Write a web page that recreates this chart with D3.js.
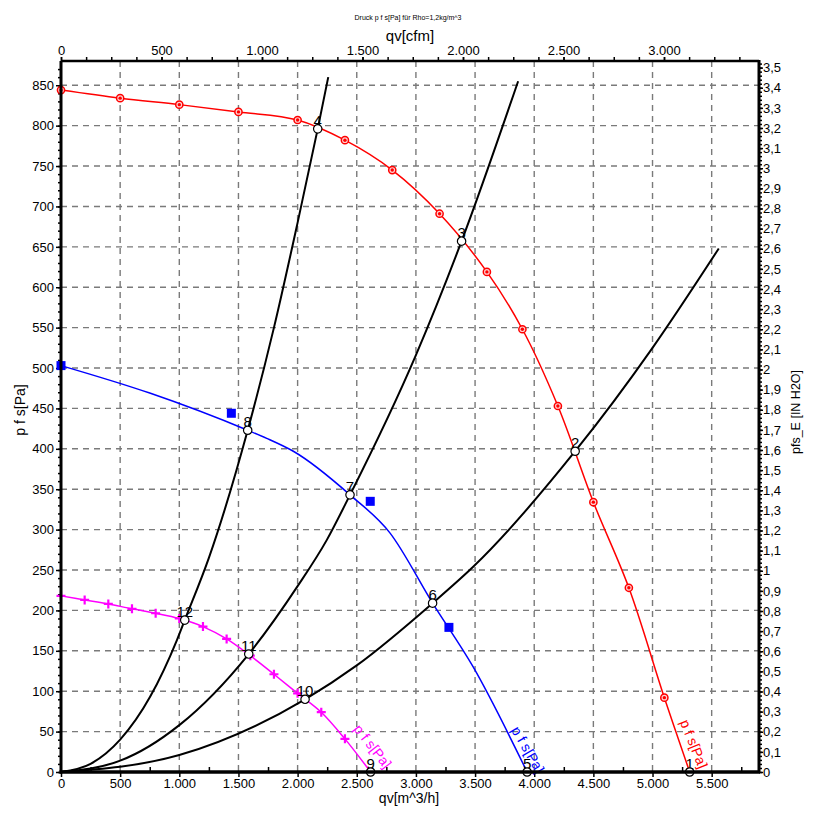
<!DOCTYPE html>
<html><head><meta charset="utf-8">
<script src="https://cdn.jsdelivr.net/npm/d3@7"></script>
<style>
body{margin:0;background:#fff;}
svg{display:block;font-family:"Liberation Sans",Arial,Helvetica,sans-serif;}
</style>
</head><body>
<svg id="c" width="817" height="831"></svg>
<script>
// ---------- data ----------
const xMaxQv = 5900;          // m^3/h
const yMaxPa = 880;           // Pa
const cfmFactor = 1.699;      // m^3/h per cfm
const inH2OFactor = 249.089;  // Pa per inH2O

const bottomTicks = [0,500,1000,1500,2000,2500,3000,3500,4000,4500,5000,5500];
const topTicks = [0,500,1000,1500,2000,2500,3000];
const leftTicks = [0,50,100,150,200,250,300,350,400,450,500,550,600,650,700,750,800,850];
const rightTicks = [0,0.1,0.2,0.3,0.4,0.5,0.6,0.7,0.8,0.9,1,1.1,1.2,1.3,1.4,1.5,1.6,1.7,1.8,1.9,2,2.1,2.2,2.3,2.4,2.5,2.6,2.7,2.8,2.9,3,3.1,3.2,3.3,3.4,3.5];

// red fan curve (measured markers) and its end on the axis
const redQv = [0,500,1000,1500,2000,2400,2800,3200,3600,3900,4200,4500,4800,5100];
const redP  = [844,834,826,817,807,782,745,691,619,548,453,334,228,92];
const redEndQv = 5314, redEndP = 0;

// blue fan curve (line) and its measured square markers
const blueLineQv = [0,750,1578,1739,1964,2443,2780,3141,3484,3940];
const blueLineP  = [503,469,423,413,397,343,296,209,130,0];
const blueSqQv = [0,1440,2614,3279];
const blueSqP  = [503,444,335,179];

// magenta fan curve (measured "+" markers) and its end on the axis
const magQv = [0,200,400,600,800,1000,1200,1400,1600,1800,2000,2200,2400];
const magP  = [218,213,208,202,196.5,190,180,164.7,144,121,97.4,74,41];
const magEndQv = 2617, magEndP = 0;

// system (resistance) curves
const sysAQv = [0,250,500,753,979,1046,1250,1578,1800,2000,2170,2259];
const sysAP  = [0,10,40,93,163,188,265,423,550,680,796,860];
const sysBQv = [0,500,1000,1587,2000,2246,2443,3000,3386,3864];
const sysBP  = [0,14,58,146,230,287,343,516,657,855];
const sysCQv = [0,1000,2063,2500,3141,3484,4346,5000,5560];
const sysCP  = [0,21,90,132,209,254,397,525,648];

// operating points
const opIds = ["1","2","3","4","5","6","7","8","9","10","11","12"];
const opQv  = [5314,4346,3386,2170,3940,3141,2443,1578,2617,2063,1587,1046];
const opP   = [0,397,657,796,0,209,343,423,0,90,146,188];

const curveLabel = "p f s[Pa]";

// ---------- chart ----------
const L = 61, R = 759, T = 61, B = 772;
const svg = d3.select("#c");
const x = d3.scaleLinear().domain([0, xMaxQv]).range([L, R]);
const y = d3.scaleLinear().domain([0, yMaxPa]).range([B, T]);
const xTop = d3.scaleLinear().domain([0, xMaxQv / cfmFactor]).range([L, R]);
const yR = d3.scaleLinear().domain([0, yMaxPa / inH2OFactor]).range([B, T]);

const de = d3.formatLocale({decimal: ",", thousands: ".", grouping: [3], currency: ["", ""]});
const fmtThousands = de.format(",");
const fmtComma = de.format(".1~f");

// grid
const grid = svg.append("g").attr("stroke", "#7a7a7a").attr("stroke-width", 1.4).attr("stroke-dasharray", "6,5");
grid.selectAll("line.v").data(bottomTicks.filter(d => d > 0)).join("line")
  .attr("x1", d => x(d)).attr("x2", d => x(d)).attr("y1", T).attr("y2", B);
grid.selectAll("line.h").data(leftTicks.filter(d => d > 0)).join("line")
  .attr("x1", L).attr("x2", R).attr("y1", d => y(d)).attr("y2", d => y(d));

function styleAxis(g) {
  g.select(".domain").remove();
  g.selectAll(".tick line").attr("stroke", "#000").attr("stroke-width", 1.5);
  g.selectAll(".tick text").attr("font-size", 13).attr("fill", "#000")
    .attr("font-family", "Liberation Sans, Arial, sans-serif");
}

// left axis
svg.append("g").attr("transform", `translate(${L},0)`)
  .call(d3.axisLeft(y).tickValues(d3.range(0, 871, 10)).tickSize(3).tickFormat(""))
  .call(styleAxis);
svg.append("g").attr("transform", `translate(${L},0)`)
  .call(d3.axisLeft(y).tickValues(leftTicks).tickSize(5).tickPadding(2).tickFormat(d => d))
  .call(styleAxis);

// right axis
svg.append("g").attr("transform", `translate(${R},0)`)
  .call(d3.axisRight(yR).tickValues(d3.range(0, 177).map(i => i / 50)).tickSize(3).tickFormat(""))
  .call(styleAxis);
svg.append("g").attr("transform", `translate(${R},0)`)
  .call(d3.axisRight(yR).tickValues(rightTicks).tickSize(4).tickPadding(0).tickFormat(fmtComma))
  .call(styleAxis);

// bottom axis
svg.append("g").attr("transform", `translate(0,${B})`)
  .call(d3.axisBottom(x).tickValues(d3.range(250, 5900, 500)).tickSize(-5).tickFormat(""))
  .call(styleAxis);
svg.append("g").attr("transform", `translate(0,${B})`)
  .call(d3.axisBottom(x).tickValues(bottomTicks).tickSize(5).tickPadding(2).tickFormat(fmtThousands))
  .call(styleAxis);

// top axis
svg.append("g").attr("transform", `translate(0,${T})`)
  .call(d3.axisTop(xTop).tickValues(d3.range(0, 3470, 125)).tickSize(4).tickFormat(""))
  .call(styleAxis);
svg.append("g").attr("transform", `translate(0,${T})`)
  .call(d3.axisTop(xTop).tickValues(topTicks).tickSize(4).tickPadding(2).tickFormat(fmtThousands))
  .call(styleAxis);

// titles
svg.append("text").attr("x", 408).attr("y", 20).attr("text-anchor", "middle")
  .attr("font-size", 7).text("Druck p f s[Pa] für Rho=1,2kg/m^3");
svg.append("text").attr("x", (L + R) / 2).attr("y", 41).attr("text-anchor", "middle")
  .attr("font-size", 15).text("qv[cfm]");
svg.append("text").attr("x", (L + R) / 2 - 1).attr("y", 803).attr("text-anchor", "middle")
  .attr("font-size", 14).text("qv[m^3/h]");
svg.append("text").attr("transform", "translate(25,410) rotate(-90)").attr("text-anchor", "middle")
  .attr("font-size", 14).text("p f s[Pa]");
svg.append("text").attr("transform", "translate(800,412) rotate(-90)").attr("text-anchor", "middle")
  .attr("font-size", 12.5).text("pfs_E [IN H2O]");

// curves
const line = d3.line().x(d => x(d[0])).y(d => y(d[1]));
const zip = (a, b) => a.map((v, i) => [v, b[i]]);

const sysG = svg.append("g").attr("fill", "none").attr("stroke", "#000").attr("stroke-width", 2);
[[sysAQv, sysAP], [sysBQv, sysBP], [sysCQv, sysCP]].forEach(([q, p]) => {
  sysG.append("path").attr("d", line.curve(d3.curveMonotoneX)(zip(q, p)));
});

const redPts = zip(redQv, redP).concat([[redEndQv, redEndP]]);
svg.append("path").attr("fill", "none").attr("stroke", "#ff0000").attr("stroke-width", 1.5)
  .attr("d", line.curve(d3.curveCatmullRom)(redPts));
svg.append("path").attr("fill", "none").attr("stroke", "#0000ff").attr("stroke-width", 1.5)
  .attr("d", line.curve(d3.curveMonotoneX)(zip(blueLineQv, blueLineP)));
const magPts = zip(magQv, magP).concat([[magEndQv, magEndP]]);
svg.append("path").attr("fill", "none").attr("stroke", "#ff00ff").attr("stroke-width", 1.5)
  .attr("d", line.curve(d3.curveCatmullRom)(magPts));

// markers
const redM = svg.append("g").selectAll("g").data(zip(redQv, redP)).join("g")
  .attr("transform", d => `translate(${x(d[0])},${y(d[1])})`);
redM.append("circle").attr("r", 3.6).attr("fill", "#ffd0d0").attr("stroke", "#ff0000").attr("stroke-width", 1.5);
redM.append("circle").attr("r", 1.7).attr("fill", "#ff0000");

svg.append("g").selectAll("rect").data(zip(blueSqQv, blueSqP)).join("rect")
  .attr("x", d => x(d[0]) - 4.5).attr("y", d => y(d[1]) - 4.5)
  .attr("width", 9).attr("height", 9).attr("fill", "#0000ff");

svg.append("g").attr("stroke", "#ff00ff").attr("stroke-width", 2.2)
  .selectAll("path").data(zip(magQv, magP)).join("path")
  .attr("d", d => `M${x(d[0]) - 4.5},${y(d[1])}H${x(d[0]) + 4.5}M${x(d[0])},${y(d[1]) - 4.5}V${y(d[1]) + 4.5}`);

// curve labels
[[5230, 62, 68, "#ff0000"], [3802, 52, 60, "#0000ff"], [2469, 53, 52, "#ff00ff"]].forEach(([q, p, a, c]) => {
  svg.append("text").attr("transform", `translate(${x(q)},${y(p)}) rotate(${a})`)
    .attr("font-size", 14).attr("fill", c).text(curveLabel);
});

// operating points
const ops = svg.append("g").selectAll("g").data(opIds.map((id, i) => ({id, q: opQv[i], p: opP[i]}))).join("g")
  .attr("transform", d => `translate(${x(d.q)},${y(d.p)})`);
ops.append("text").attr("y", -3).attr("text-anchor", "middle").attr("font-size", 15).attr("fill", "#000")
  .text(d => d.id);
ops.append("circle").attr("r", 4.2).attr("fill", "#fff").attr("stroke", "#000").attr("stroke-width", 1.2);

// frame
const frame = svg.append("g").attr("stroke", "#000");
frame.append("line").attr("x1", L).attr("x2", L).attr("y1", T).attr("y2", B + 1.5).attr("stroke-width", 3);
frame.append("line").attr("x1", L - 1.5).attr("x2", R + 1).attr("y1", B).attr("y2", B).attr("stroke-width", 3.5);
frame.append("line").attr("x1", L).attr("x2", R).attr("y1", T).attr("y2", T).attr("stroke-width", 2.5);
frame.append("line").attr("x1", R).attr("x2", R).attr("y1", T - 1).attr("y2", B).attr("stroke-width", 3);
</script>
</body></html>
